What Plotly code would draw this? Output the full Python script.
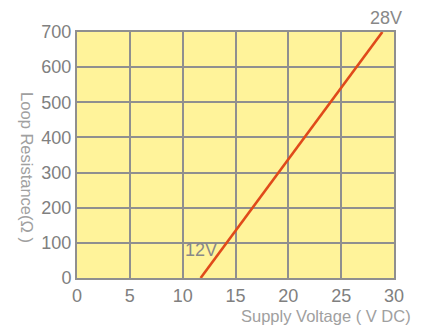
import plotly.graph_objects as go

# Data
supply_voltage = [11.7, 28.9]      # V DC
loop_resistance = [0, 700]         # Ohm
x_ticks = [0, 5, 10, 15, 20, 25, 30]
y_ticks = [0, 100, 200, 300, 400, 500, 600, 700]
x_title = "Supply Voltage ( V DC)"
y_title = "Loop Resistance(Ω )"
labels_text = ["12V", "28V"]

GRID = "#8f8f8f"
FONT = "Liberation Sans, Arial, sans-serif"

fig = go.Figure()
fig.add_trace(go.Scatter(
    x=supply_voltage, y=loop_resistance, mode="lines",
    line=dict(color="#e04a1a", width=2.6), showlegend=False,
    cliponaxis=False,
))

# annotation positions (paper coords relative to plot area)
label_pos = [(0.391, 0.112), (0.975, 1.055)]
for t, (xx, yy) in zip(labels_text, label_pos):
    fig.add_annotation(x=xx, y=yy, xref="paper", yref="paper", text=t, showarrow=False,
                       xanchor="center", yanchor="middle",
                       font=dict(family=FONT, size=18, color="#888888"))

fig.add_annotation(x=-0.158, y=0.447, xref="paper", yref="paper", text=y_title,
                   showarrow=False, textangle=90, xanchor="center", yanchor="middle",
                   font=dict(family=FONT, size=16.5, color="#a0a0a0"))
fig.add_annotation(x=0.784, y=-0.154, xref="paper", yref="paper", text=x_title,
                   showarrow=False, xanchor="center", yanchor="middle",
                   font=dict(family=FONT, size=16.5, color="#a0a0a0"))

fig.update_layout(
    width=430, height=327,
    margin=dict(l=77, r=36, t=32, b=49, autoexpand=False),
    paper_bgcolor="white", plot_bgcolor="#fff39a",
    font=dict(family=FONT, color="#808080"),
    xaxis=dict(range=[0, 30], tickvals=x_ticks, showgrid=True, gridcolor=GRID, gridwidth=2,
               showline=True, linecolor=GRID, linewidth=2, mirror=True, zeroline=False,
               tickfont=dict(size=18, color="#808080"), ticks="", automargin=False),
    yaxis=dict(range=[0, 700], tickvals=y_ticks, showgrid=True, gridcolor=GRID, gridwidth=2,
               showline=True, linecolor=GRID, linewidth=2, mirror=True, zeroline=False,
               tickfont=dict(size=18, color="#808080"), ticks="", ticklabelstandoff=0,
               automargin=False),
)

fig.write_html("out.html", config={"displayModeBar": False},
               post_script="document.body.style.margin='0';document.body.style.overflow='hidden';")
